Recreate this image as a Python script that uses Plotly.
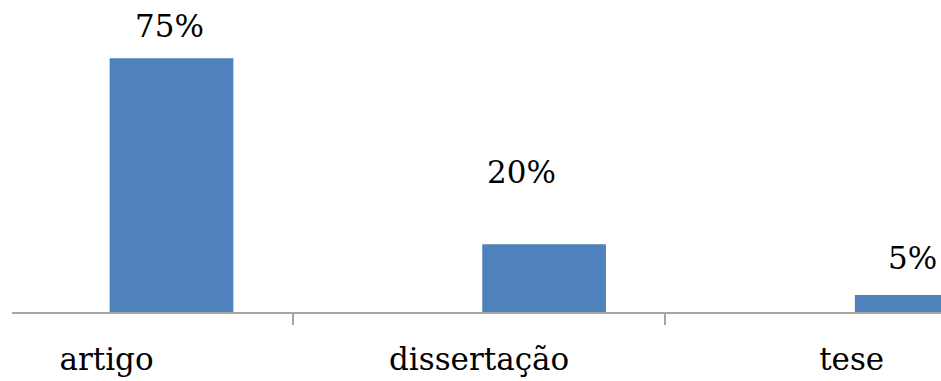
import plotly.graph_objects as go

categories = ["artigo", "dissertação", "tese"]
values = [75, 20, 5]
value_labels = ["75%", "20%", "5%"]

# per-label placement offsets (px) of the value labels, as in the reference
label_xshift = [-2.5, -22.5, -4.5]
label_yshift = [32, 72, 37]

BAR_COLOR = "#4F81BD"
AXIS_COLOR = "#A6A6A6"
FONT = "DejaVu Serif"
FS = 31

fig = go.Figure()
fig.add_trace(go.Bar(
    x=categories, y=values, marker=dict(color=BAR_COLOR, line=dict(width=0)),
    width=0.332, xaxis="x", yaxis="y", showlegend=False, hoverinfo="skip",
))
# invisible trace carrying the category axis
fig.add_trace(go.Scatter(
    x=categories, y=[0, 0, 0], xaxis="x2", yaxis="y", mode="markers",
    marker=dict(opacity=0), showlegend=False, hoverinfo="skip",
))

for c, v, t, dx, dy in zip(categories, values, value_labels, label_xshift, label_yshift):
    fig.add_annotation(x=c, y=v, xref="x", yref="y", text=t, showarrow=False,
                       xanchor="center", yanchor="middle", xshift=dx, yshift=dy,
                       font=dict(family=FONT, size=FS, color="#000000"))

fig.update_layout(
    width=941, height=381,
    margin=dict(l=12, r=0, t=0, b=69.3),
    paper_bgcolor="white", plot_bgcolor="white",
    font=dict(family=FONT),
    xaxis=dict(type="category", range=[-0.4281, 2.0652], visible=False, fixedrange=True),
    xaxis2=dict(type="category", overlaying="x", side="bottom", anchor="y",
                range=[-0.2536, 2.2397], showline=True, linecolor=AXIS_COLOR, linewidth=1.5,
                ticks="outside", tickson="boundaries", ticklen=11, tickcolor=AXIS_COLOR,
                tickwidth=1.5, showgrid=False, zeroline=False,
                tickfont=dict(family=FONT, size=FS, color="#000000"),
                ticklabelstandoff=19),
    yaxis=dict(range=[0, 92.25], visible=False, showgrid=False, zeroline=False),
)

fig.write_html("out.html")
